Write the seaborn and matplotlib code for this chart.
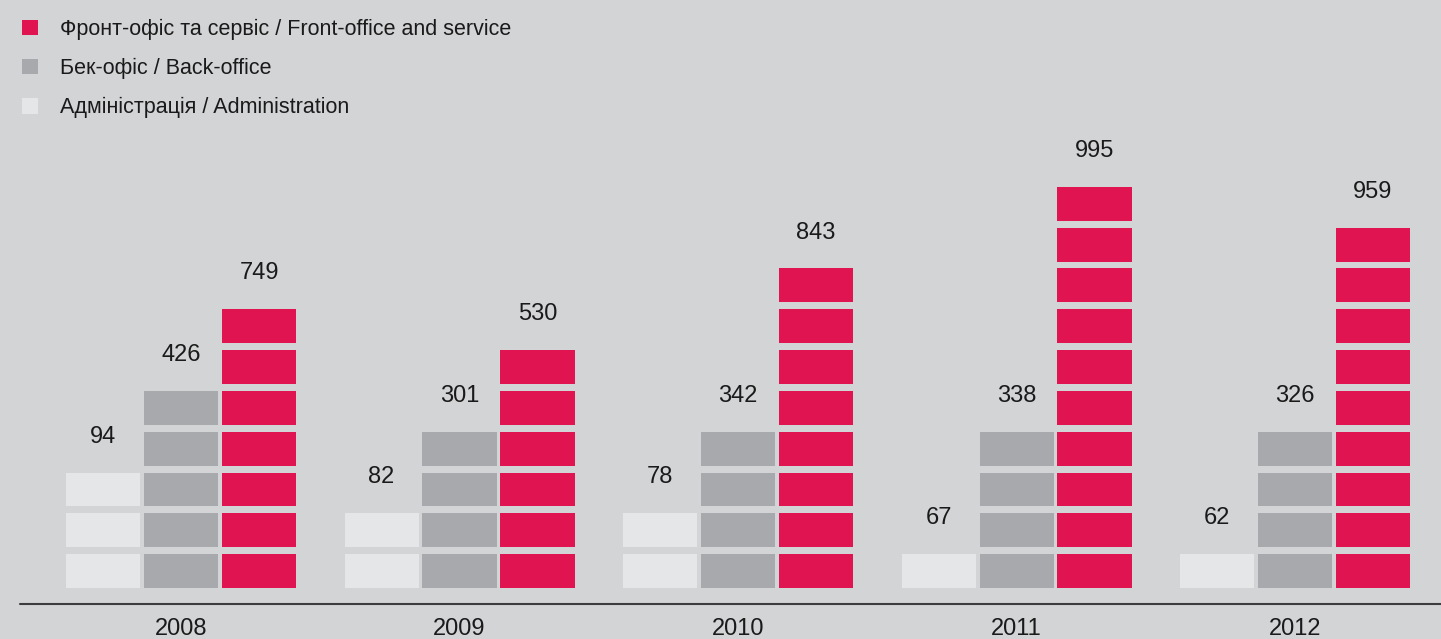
import numpy as np
import pandas as pd
import matplotlib
matplotlib.use('Agg')
import matplotlib.pyplot as plt
from matplotlib.patches import Patch
import seaborn as sns

# Дані з графіка
years = ['2008', '2009', '2010', '2011', '2012']
admin_vals = [94, 82, 78, 67, 62]
back_vals = [426, 301, 342, 338, 326]
front_vals = [749, 530, 843, 995, 959]

# кількість блоків у кожному стовпчику (як на картинці)
admin_blocks = [3, 2, 2, 1, 1]
back_blocks = [5, 4, 4, 4, 4]
front_blocks = [7, 6, 8, 10, 9]

labels = ['Адміністрація / Administration', 'Бек-офіс / Back-office',
          'Фронт-офіс та сервіс / Front-office and service']

colors = {'admin': '#e5e6e8', 'back': '#a8a9ad', 'front': '#e01450'}
bg = '#d3d4d6'

sns.set_style('white')
plt.rcParams['font.family'] = ['Liberation Sans Narrow', 'Liberation Sans', 'DejaVu Sans']

df = pd.DataFrame({
    'year': years,
    'admin': admin_vals, 'back': back_vals, 'front': front_vals,
    'admin_n': admin_blocks, 'back_n': back_blocks, 'front_n': front_blocks,
})

fig = plt.figure(figsize=(14.41, 6.39), dpi=100)
fig.patch.set_facecolor(bg)
ax = fig.add_axes([0, 0, 1, 1])
ax.set_facecolor(bg)

offsets = {'admin': -0.28, 'back': 0.0, 'front': 0.28}
bar_w = 0.266
block_h = 0.83

x = np.arange(len(df))
for key in ['admin', 'back', 'front']:
    for i, row in df.iterrows():
        n = row[key + '_n']
        ax.bar(np.full(n, x[i] + offsets[key]), block_h, bottom=np.arange(n),
               width=bar_w, color=colors[key], linewidth=0)
        ax.text(x[i] + offsets[key], n + 0.71, str(row[key]), ha='center',
                va='center', fontsize=17, color='#1a1a1a')

for i, yr in enumerate(years):
    ax.text(x[i], -1.0, yr, ha='center', va='center', fontsize=17, color='#1a1a1a')

ax.axhline(-0.39, xmin=20 / 1441, xmax=1, color='#3c3c3e', lw=1.5)

ax.set_xlim(-0.65, 4.524)
ax.set_ylim(-1.25, 14.41)
ax.axis('off')

handles = [Patch(facecolor=colors['front'], linewidth=0, label=labels[2]),
           Patch(facecolor=colors['back'], linewidth=0, label=labels[1]),
           Patch(facecolor=colors['admin'], linewidth=0, label=labels[0])]
leg = ax.legend(handles=handles, loc='upper left', bbox_to_anchor=(0.0095, 0.984),
                frameon=False, fontsize=15.5, handlelength=0.72, handleheight=0.72,
                handletextpad=1.05, labelspacing=0.84, borderaxespad=0)
for t in leg.get_texts():
    t.set_color('#1a1a1a')

fig.savefig('out.png', dpi=100, facecolor=bg)
